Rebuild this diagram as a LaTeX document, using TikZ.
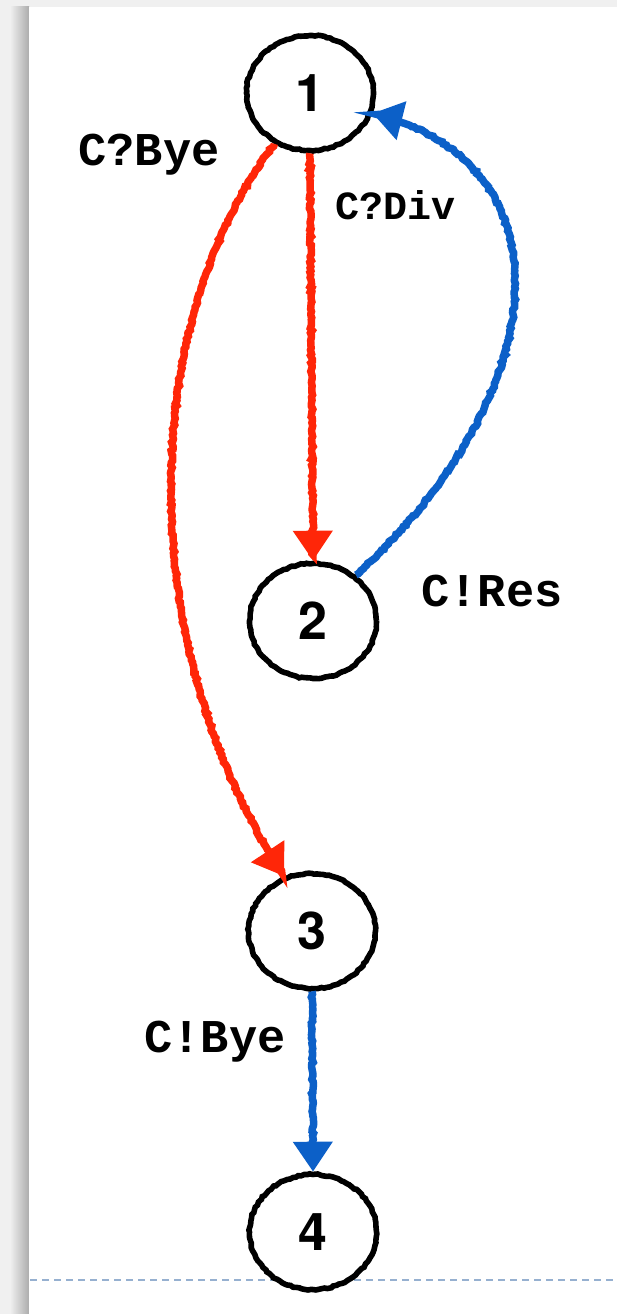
\documentclass[tikz,border=0pt]{standalone}
\usepackage{fontspec}
\setmainfont{Liberation Sans}
\setmonofont{Liberation Mono}
\newfontfamily\statefont{TeX Gyre Heros}
\usepackage{tikz}
\usetikzlibrary{arrows.meta, positioning, shapes.geometric, decorations.pathmorphing}

\definecolor{crayonred}{RGB}{255,38,8}
\definecolor{crayonblue}{RGB}{12,96,200}
\definecolor{pageline}{RGB}{150,176,208}

\newcommand{\statenum}[1]{{\statefont\bfseries\fontsize{52}{52}\selectfont #1}}

\begin{document}
\begin{tikzpicture}[
    x=1pt, y=-1pt,
    state/.style={ellipse, draw=black, line width=5.6pt, fill=white, minimum width=127pt, minimum height=115pt, inner sep=0pt,
        decorate, decoration={random steps, segment length=3pt, amplitude=0.7pt}},
    lbl/.style={font=\fontsize{47}{47}\selectfont\ttfamily\bfseries, inner sep=0pt},
    crayon/.style={line width=7.5pt, draw=#1, -{Triangle[width=38pt,length=30pt,fill=#1]},
        decorate, decoration={random steps, segment length=2.5pt, amplitude=1pt, post length=6pt}},
    crayon/.default={crayonred},
    pagerule/.style={pageline, line width=1.3pt, dash pattern=on 7pt off 5pt}
]
\useasboundingbox (0,0) rectangle (617,1314);

% === PAGE ===
\fill[gray!12] (0,0) rectangle (617,1314);
\shade[left color=gray!12, right color=gray!65] (10,7) rectangle (29,1314);
\fill[white] (29,7) rectangle (617,1314);
\coordinate (rulel) at (30,1280);
\coordinate (ruler) at (617,1280);
\draw[pagerule] (rulel) -- (ruler);

% === STATES ===
\node[state] (s1) at (310,93) {\statenum{1}};
\node[state] (s2) at (313,621) {\statenum{2}};
\node[state] (s3) at (312,931) {\statenum{3}};
\node[state] (s4) at (313,1232) {\statenum{4}};

% === LABELS ===
\node[lbl] (byein) at (149,155) {C?Bye};
\node[lbl, font=\fontsize{40}{40}\selectfont\ttfamily\bfseries] (divin) at (396,205) {C?Div};
\node[lbl] (resout) at (492,591) {C!Res};
\node[lbl] (byeout) at (215,1042) {C!Bye};

% === TRANSITIONS ===
\draw[crayon] (s1.south) -- (s2.north);
\draw[crayon] (s1.235) .. controls (135,330) and (135,650) .. (s3.117);
\draw[crayon=crayonblue] (s2.47) .. controls (550,400) and (580,165) .. (s1.342);
\draw[crayon=crayonblue] (s3.south) -- (s4.north);

\end{tikzpicture}
\end{document}
